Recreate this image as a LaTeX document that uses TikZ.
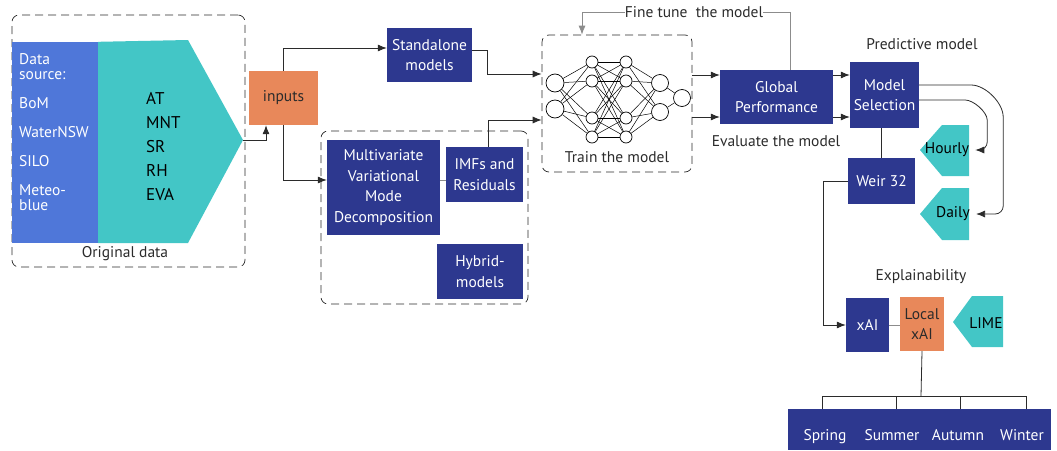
\documentclass[tikz,border=0pt]{standalone}
\usepackage{fontspec}
\setmainfont{PT Sans}
\usetikzlibrary{arrows.meta}

\definecolor{navy}{HTML}{2D388F}
\definecolor{royal}{HTML}{4F77D9}
\definecolor{aqua}{HTML}{43C6C6}
\definecolor{coral}{HTML}{E8885A}
\definecolor{ink}{HTML}{2B2B2B}

\begin{document}
\begin{tikzpicture}
  [
    x                  = 1pt,
    y                  = -1pt,
    every node/.style  = {font=\fontsize{15.5}{20.5}\selectfont, inner sep=0pt},
    navybox/.style     = {fill=navy, text=white, align=center},
    coralbox/.style    = {fill=coral, text=ink, align=center},
    dashbox/.style     = {draw=ink, dash pattern=on 8pt off 5pt, rounded corners=7pt, line width=0.7pt},
    caption/.style     = {text=ink},
    link/.style        = {draw=ink, line width=0.8pt},
    faint/.style       = {draw=black!45, line width=0.8pt},
    arr/.style         = {link, -{Latex[length=9pt,width=7pt]}},
    neuron/.style      = {circle, draw, line width=0.7pt, fill=white},
    synapse/.style     = {line width=0.5pt}
  ]
  \useasboundingbox (0,0) rectangle (1057,450);

  % original data
  \node[dashbox, minimum width=233, minimum height=252] (orig) at (128.5,141) {};
  \node[fill=royal, minimum width=86, minimum height=201] (src) at (55,142.5) {};
  \fill[aqua] (src.north east) -- (188,40) -- (243,140) coordinate (tip) -- (188,243) -- (src.south east) -- cycle;
  \node[anchor=north west, align=left, text=white, font=\fontsize{15.5}{15}\selectfont] (srclist) at (19,53)
    {Data\\source:\\[14pt]BoM\\[14pt]WaterNSW\\[14pt]SILO\\[14pt]Meteo-\\blue};
  \node[anchor=north west, align=left, text=black, font=\fontsize{17}{24}\selectfont] (vars) at (146,92)
    {AT\\MNT\\SR\\RH\\EVA};
  \node[caption] (origlabel) at (125,254) {Original data};

  \node[coralbox, minimum width=69, minimum height=54] (inputs) at (283.5,98) {inputs};

  % model paths
  \node[navybox, minimum width=85, minimum height=54] (standalone) at (429.5,55) {Standalone\\models};
  \node[dashbox, minimum width=207, minimum height=173] (hybbox) at (424.5,217.5) {};
  \node[navybox, minimum width=113, minimum height=95] (mvmd) at (383.5,187.5)
    {Multivariate\\Variational\\Mode\\Decomposition};
  \node[navybox, minimum width=77, minimum height=55] (imfs) at (484.5,174.5) {IMFs and\\Residuals};
  \node[navybox, minimum width=86, minimum height=55] (hybrid) at (480,271.5) {Hybrid-\\models};

  % network
  \node[dashbox, minimum width=150, minimum height=137] (nnbox) at (617,103.5) {};
  \foreach \y [count=\i] in {83,109}
    \node[neuron, minimum size=18] (a\i) at (555,\y) {};
  \foreach \y [count=\i] in {62,81,118,137} {
    \node[neuron, minimum size=12] (b\i) at (592,\y) {};
    \node[neuron, minimum size=12] (c\i) at (626,\y) {};
  }
  \foreach \y [count=\i] in {83,112}
    \node[neuron, minimum size=17] (d\i) at (660,\y) {};
  \node[neuron, minimum size=17] (e1) at (682,98) {};
  \foreach \i in {1,2}
    \foreach \j in {1,...,4}
      \draw[synapse] (a\i) -- (b\j);
  \foreach \i in {1,...,4}
    \foreach \j in {1,...,4}
      \draw[synapse] (b\i) -- (c\j);
  \foreach \i in {1,...,4}
    \foreach \j in {1,2}
      \draw[synapse] (c\i) -- (d\j);
  \foreach \i in {1,2}
    \draw[synapse] (d\i) -- (e1);
  \node[caption] (trainlabel) at (617,157) {Train the model};
  \node[caption] (finetune) at (694,12) {Fine tune~ the model};

  % evaluation and selection
  \node[navybox, minimum width=113, minimum height=54] (gp) at (776.5,97) {Global\\Performance};
  \node[caption] (evallabel) at (776,141) {Evaluate the model};
  \node[navybox, minimum width=69, minimum height=66] (ms) at (884.5,95) {Model\\Selection};
  \node[caption] (predlabel) at (922,44) {Predictive model};
  \node[navybox, minimum width=67, minimum height=46] (weir) at (881.5,181) {Weir 32};

  \fill[aqua] (969,125) -- (942,125) -- (920,150) -- (942,176) -- (969,176) -- cycle;
  \node[text=black] (hourly) at (947,150) {Hourly};
  \fill[aqua] (969,188) -- (942,188) -- (920,214) -- (942,240) -- (969,240) -- cycle;
  \node[text=black] (daily) at (953,214) {Daily};

  % explainability
  \node[caption] (xlabel) at (921,277) {Explainability};
  \node[navybox, minimum width=43, minimum height=54] (xai) at (867.5,325) {xAI};
  \node[coralbox, minimum width=44, minimum height=54] (lxai) at (922,324) {Local\\xAI};
  \fill[aqua] (1003,296) -- (972,296) -- (953,322) -- (972,347) -- (1003,347) -- cycle;
  \node[text=black] (lime) at (986,323) {LIME};

  \node[navybox, minimum width=263, minimum height=41] (seasons) at (919.5,429.5) {};
  \node[text=white, anchor=base] (spring) at (825,440) {Spring};
  \node[text=white, anchor=base] (summer) at (892,440) {Summer};
  \node[text=white, anchor=base] (autumn) at (958,440) {Autumn};
  \node[text=white, anchor=base] (winter) at (1022,440) {Winter};

  % connectors
  \draw[arr] (tip) -| ([xshift=-17.5]inputs.south);
  \draw[arr] (inputs.north) |- ([yshift=7]standalone.west);
  \draw[arr] (inputs.south) |- ([yshift=7.5]mvmd.west);
  \draw[faint] ([yshift=7.5]mvmd.east) -- ([yshift=7.5]mvmd.east -| imfs.west);
  \draw[arr] ([yshift=5]standalone.east) -- ++(15,0) |- ([yshift=29.5]nnbox.west);
  \draw[arr] ([xshift=4]imfs.north) |- ([yshift=-16.5]nnbox.west);
  \draw[arr] ([yshift=22]gp.west -| nnbox.east) -- ([yshift=22]gp.west);
  \draw[arr] ([yshift=-20]gp.west -| nnbox.east) -- ([yshift=-20]gp.west);
  \draw[arr] ([yshift=22]gp.east) -- ([yshift=22]gp.east -| ms.west);
  \draw[arr] ([yshift=-20]gp.east) -- ([yshift=-20]gp.east -| ms.west);
  \draw[faint] (finetune.east) -| ([xshift=13.5]gp.north);
  \draw[faint, -{Latex[length=9pt,width=7pt]}] (finetune.west) -| ([xshift=-35]nnbox.north);
  \draw[link] (weir.north) -- (weir.north |- ms.south);
  \draw[arr, rounded corners=8] ([yshift=10]ms.east) -- ++(44,0) to[out=0,in=90] ++(40,40)
    |- ([xshift=6]daily.east);
  \draw[arr, rounded corners=8] ([yshift=-5]ms.east) -- ++(38,0) to[out=0,in=90] ++(30,28)
    |- ([xshift=6]hourly.east);
  \draw[arr] (weir.west) -- ++(-24,0) |- (xai.west);
  \draw[faint] (xai.east) -- (xai.east -| lxai.west);
  \coordinate (hub) at (921,396);
  \draw[link] (lxai.south) -- (hub);
  \draw[link] ([xshift=-3]spring |- hub) -- ([xshift=4]winter |- hub);
  \foreach \s/\dx in {spring/-3, summer/4, autumn/2, winter/4}
    \draw[link] ([xshift=\dx]\s |- hub) -- ([xshift=\dx]\s |- seasons.north);
\end{tikzpicture}
\end{document}
